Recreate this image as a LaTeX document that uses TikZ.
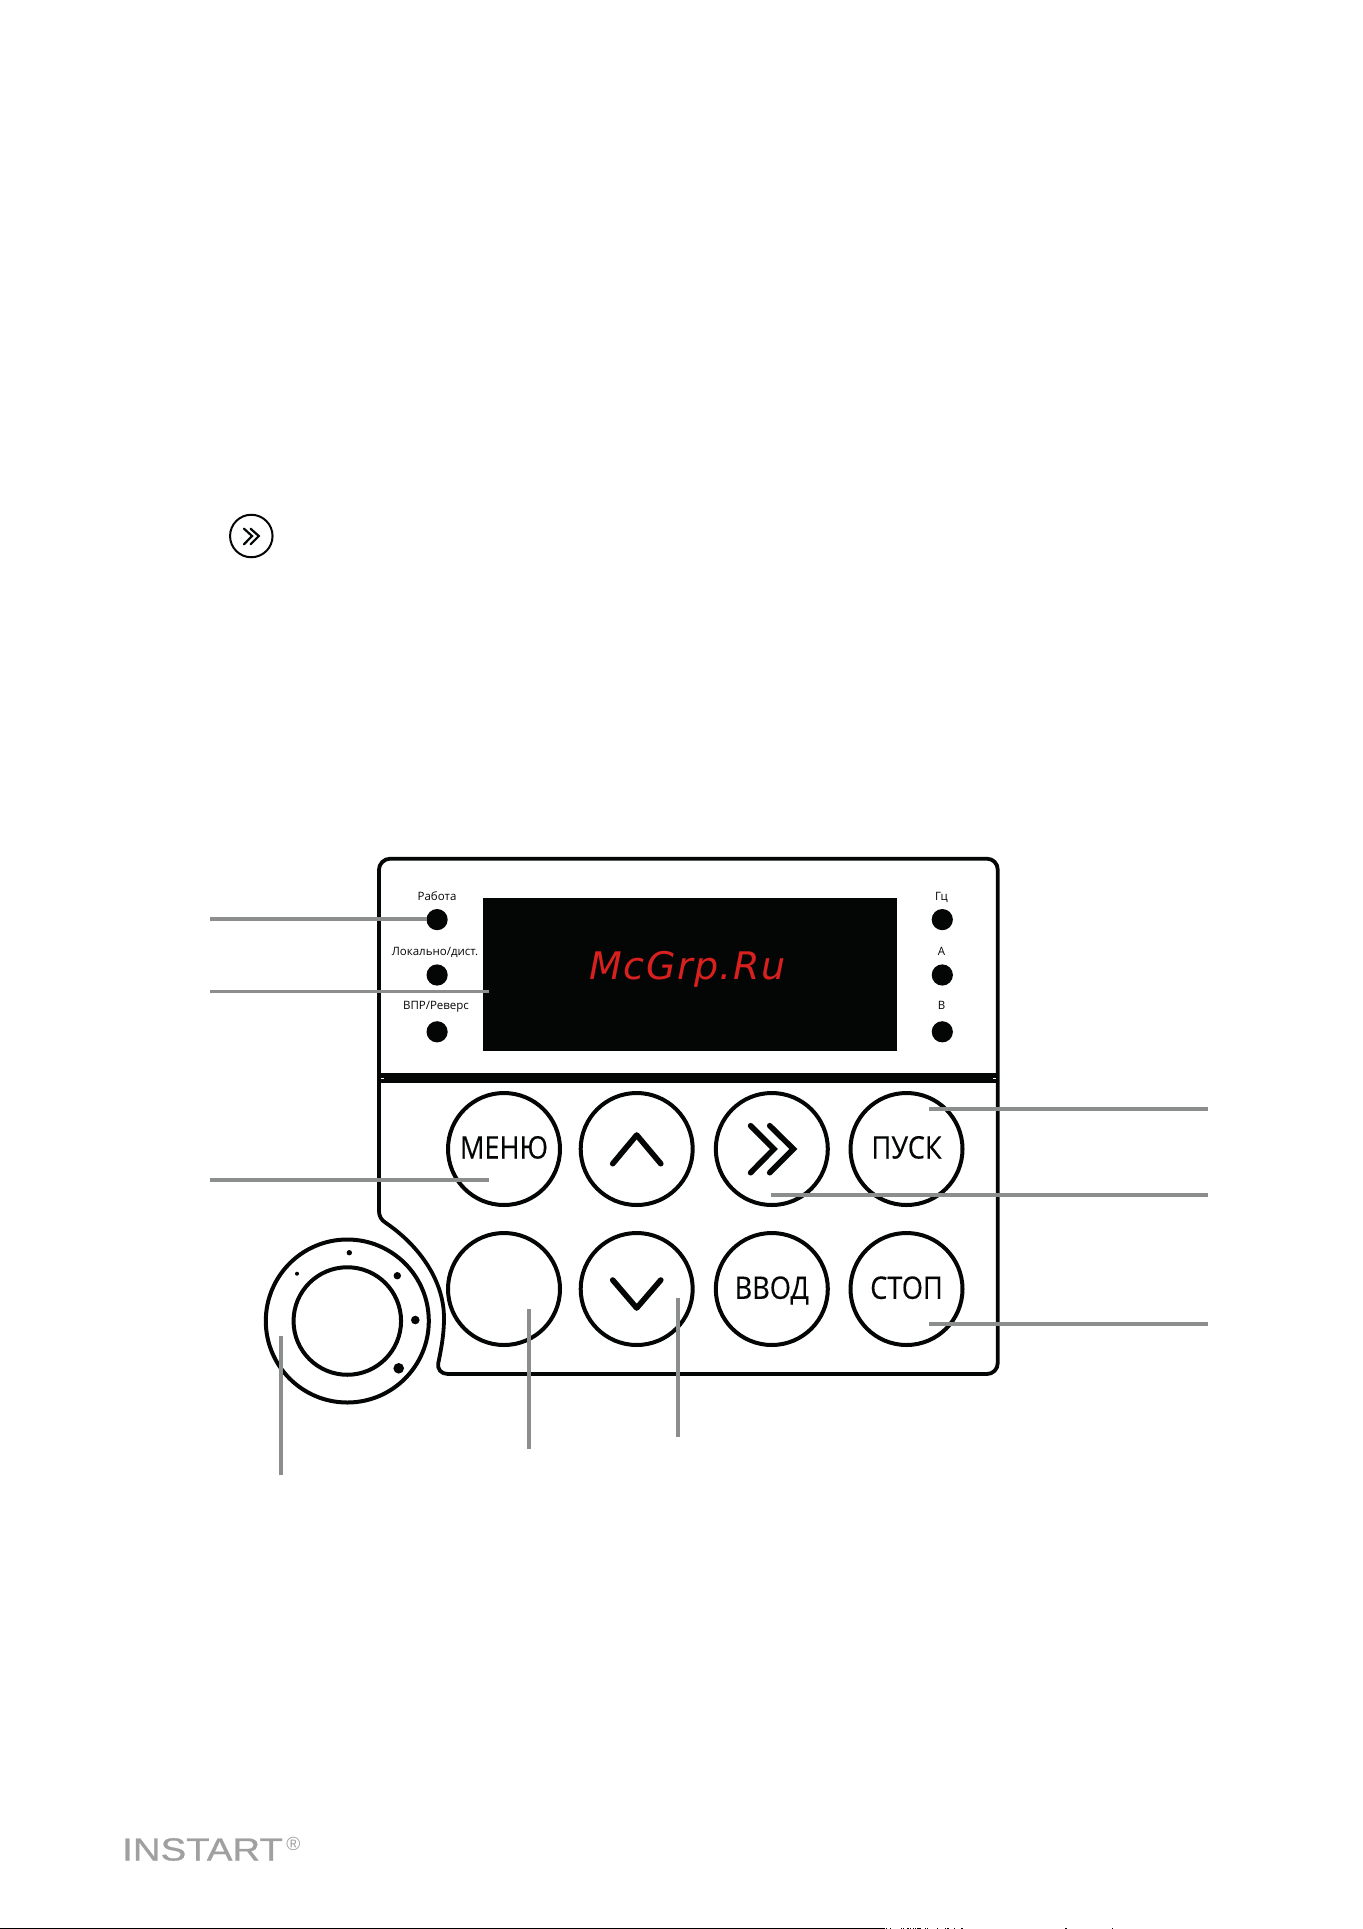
\documentclass[tikz,border=0pt]{standalone}
\usepackage{graphicx}
\usepackage{fontspec}
\setmainfont{Open Sans}
\newfontfamily\keyfont[FakeBold=0.35]{Open Sans}
\newfontfamily\wmfont[LetterSpace=4]{DejaVu Sans}
\newfontfamily\logofont[FakeBold=0.7]{Liberation Sans}
\newfontfamily\regfont{Liberation Sans}
\definecolor{leader}{HTML}{8B8E8D}
\definecolor{panelink}{HTML}{040605}
\definecolor{wmred}{HTML}{D8201F}
\definecolor{logogray}{HTML}{A0A0A0}
\newcommand{\keytext}[1]{\scalebox{.875}[1]{#1}}
\tikzset{
  panel/.style={draw=panelink,line width=3.8pt,line join=round},
  keycap/.style={circle,draw=panelink,line width=4pt,minimum size=112pt,inner sep=0pt,fill=none},
  lamp/.style={circle,fill=panelink,minimum size=21.2pt,inner sep=0pt},
  lamplabel/.style={font=\fontsize{11.5}{12}\selectfont,text=panelink,inner sep=0pt},
  keylabel/.style={font=\keyfont\fontsize{31}{32}\selectfont,text=panelink,inner sep=0pt,anchor=base},
  chevron/.style={draw=panelink,line width=5.6pt,line cap=round,line join=round},
  dblchevron/.style={draw=panelink,line width=5.6pt,line cap=round,line join=miter},
  leaderline/.style={draw=leader,line width=3.8pt},
  stud/.style={circle,fill=panelink,inner sep=0pt},
  ticks/.style={fill=panelink}
}
\begin{document}
\begin{tikzpicture}[x=1pt,y=-1pt]
\useasboundingbox[fill=white] (0,0) rectangle (1362,1929);
% small icon
\node[circle,draw=panelink,line width=2pt,minimum size=42.5pt,inner sep=0pt] (icon) at (251.3,536) {};
\draw[panelink,line width=2.2pt,line cap=round] (244,528.7) -- (252,536) -- (244,544.3);
\draw[panelink,line width=2.2pt,line cap=round] (250.6,528.7) -- (258.8,536) -- (250.6,544.3);
% panel
\draw[panel] (390,858.7) -- (987,858.7) arc[start angle=-90,end angle=0,radius=10.7] -- (997.7,1363.3) arc[start angle=0,end angle=90,radius=10.7] -- (448,1374)
  .. controls (441,1374) and (437,1369) .. (438.3,1363)
  .. controls (441,1350) and (444,1335) .. (444,1318)
  .. controls (444,1282) and (421,1247) .. (386,1223)
  .. controls (381,1220) and (378.9,1216) .. (378.9,1210)
  -- (378.9,870) arc[start angle=180,end angle=270,radius=11.3] -- cycle;
\fill[panelink] (378.9,1072.8) rectangle (997.7,1082.8);
\fill[white] (381,1077.5) rectangle (384,1078.5);
\fill[white] (993,1077.5) rectangle (996,1078.5);
% screen
\fill[panelink] (482.9,898) rectangle (896.8,1051.4);
\node[font=\wmfont\itshape\fontsize{38}{40}\selectfont,text=wmred,anchor=base,inner sep=0pt] (wm) at (687.5,979.6) {McGrp.Ru};
% lamps
\node[lamp] (l1) at (437.1,919.6) {};
\node[lamp] (l2) at (437.1,975) {};
\node[lamp] (l3) at (437.1,1031.8) {};
\node[lamp] (r1) at (942.3,919.6) {};
\node[lamp] (r2) at (942.3,975) {};
\node[lamp] (r3) at (942.3,1031.8) {};
\node[lamplabel] (tl1) at (437,896) {Работа};
\node[lamplabel] (tl2) at (435,952) {Локально/дист.};
\node[lamplabel] (tl3) at (436,1007) {ВПР/Реверс};
\node[lamplabel] (tr1) at (941.5,897) {Гц};
\node[lamplabel] (tr2) at (941.5,951) {А};
\node[lamplabel] (tr3) at (941.5,1005) {В};
% keys
\node[keycap] (menu) at (504,1149) {};
\node[keycap] (up) at (636.7,1149) {};
\node[keycap] (shift) at (771.8,1149) {};
\node[keycap] (run) at (906.5,1149) {};
\node[keycap] (blank) at (504,1289) {};
\node[keycap] (down) at (636.7,1289) {};
\node[keycap] (enter) at (771.8,1289) {};
\node[keycap] (halt) at (906.5,1289) {};
\node[keylabel] (tmenu) at (504,1158.5) {\keytext{МЕНЮ}};
\node[keylabel] (trun) at (906.5,1158.5) {\keytext{ПУСК}};
\node[keylabel] (tenter) at (771.8,1298.8) {\keytext{ВВОД}};
\node[keylabel] (thalt) at (906.5,1298.8) {\keytext{СТОП}};
\draw[chevron] (612.7,1163.7) -- (636.7,1135) -- (660.8,1163.7);
\draw[chevron] (612.7,1280) -- (636.7,1308) -- (660.8,1280);
\draw[dblchevron] (750.6,1125.7) -- (773.9,1149) -- (750.6,1172.7);
\draw[dblchevron] (769.7,1125.7) -- (793.4,1149) -- (769.7,1172.7);
% knob
\node[circle,draw=panelink,line width=4pt,minimum size=163pt,inner sep=0pt] (knobo) at (347.3,1321) {};
\node[circle,draw=panelink,line width=4pt,minimum size=107.5pt,inner sep=0pt] (knobi) at (347.3,1321) {};
\node[stud,minimum size=4pt] (s1) at (297,1273.7) {};
\node[stud,minimum size=5.4pt] (s2) at (349.3,1252.7) {};
\node[stud,minimum size=7.4pt] (s3) at (397.3,1275.7) {};
\node[stud,minimum size=8.6pt] (s4) at (415.3,1320) {};
\node[stud,minimum size=10.6pt] (s5) at (398.7,1368.3) {};
% leaders
\coordinate (a1) at (209.8,918.8); \coordinate (a2) at (427,918.8);
\coordinate (b1) at (209.8,991.4); \coordinate (b2) at (489,991.4);
\coordinate (c1) at (209.8,1179.6); \coordinate (c2) at (489,1179.6);
\coordinate (d1) at (280.8,1475); \coordinate (d2) at (280.8,1336);
\coordinate (e1) at (529,1449); \coordinate (e2) at (529,1309.4);
\coordinate (f1) at (678,1436.7); \coordinate (f2) at (678,1298);
\coordinate (g1) at (1208,1109); \coordinate (g2) at (929,1109);
\coordinate (h1) at (1208,1195); \coordinate (h2) at (771,1195);
\coordinate (i1) at (1208,1324); \coordinate (i2) at (929,1324);
\foreach \p/\q in {a1/a2,b1/b2,c1/c2,d1/d2,e1/e2,f1/f2,g1/g2,h1/h2,i1/i2}
  \draw[leaderline] (\p) -- (\q);
% logo
\node[font=\logofont\fontsize{32}{32}\selectfont,text=logogray,anchor=base west,inner sep=0pt] (logo) at (122,1860.5) {\scalebox{1.2}[1]{INSTART}};
\node[font=\regfont\fontsize{19}{19}\selectfont,text=logogray,anchor=center,inner sep=0pt] (reg) at (293.4,1843.5) {®};
% cut-off page rule
\fill[black] (0,1927.5) rectangle (885,1929);
\foreach \t in {886,890,900.7,902.7,907.3,910,912.7,914.7,917.3,919.3,924.7,926.7,936.7,944.7,947.3,954,961.3,1065.3,1111.7}
  \fill[ticks] (\t,1928) rectangle (\t+1.2,1929);
\end{tikzpicture}
\end{document}
